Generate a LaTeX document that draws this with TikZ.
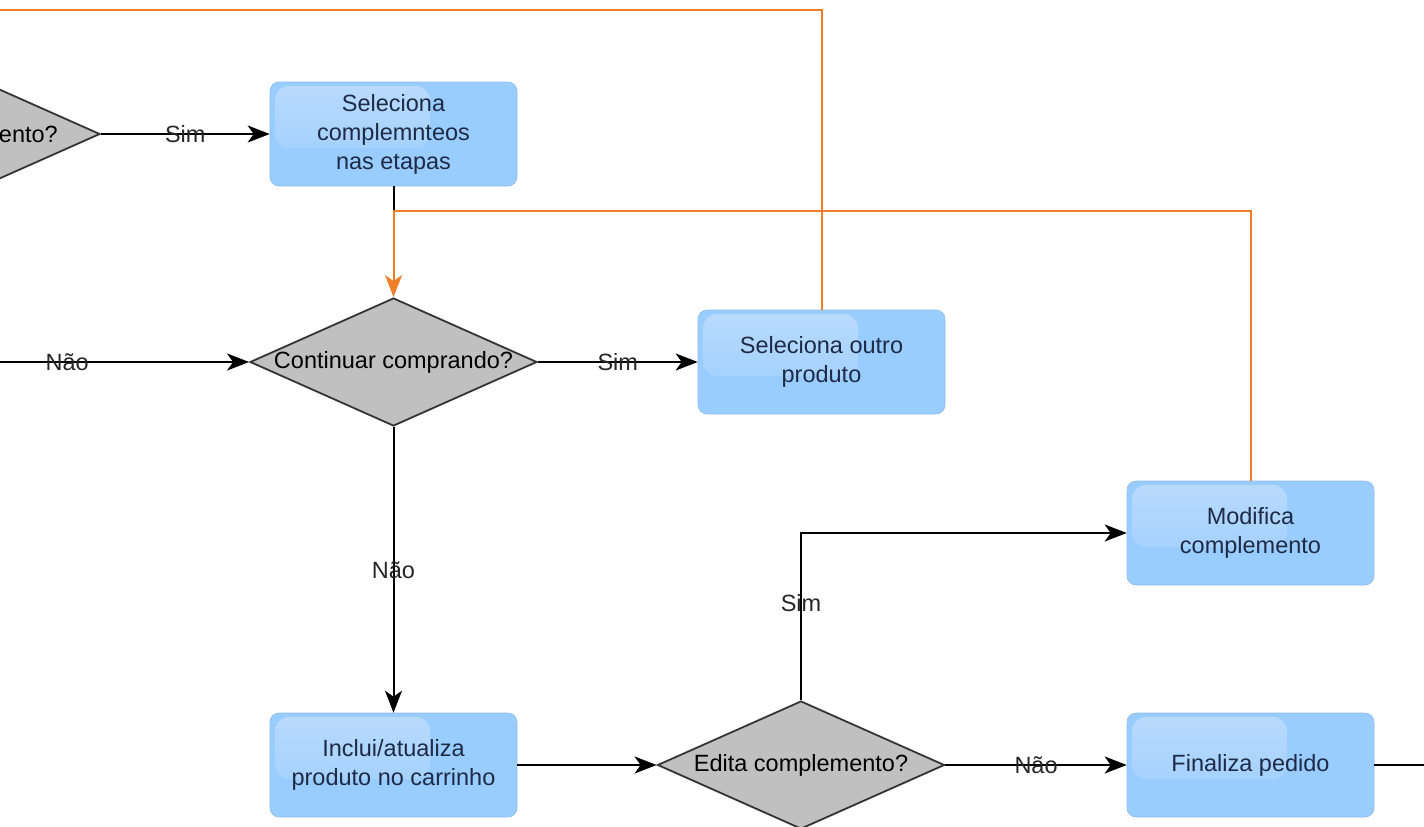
\documentclass[tikz,border=0pt]{standalone}
\usepackage{fontspec}
\setmainfont{Liberation Sans}
\usetikzlibrary{shapes.geometric,arrows.meta}
\definecolor{caixa}{RGB}{153,204,255}
\definecolor{brilho}{RGB}{186,219,253}
\definecolor{losango}{RGB}{192,192,192}
\definecolor{laranja}{RGB}{240,125,40}
\definecolor{texto}{RGB}{30,42,70}
\tikzset{
  etapa/.style={rectangle,rounded corners=9pt,fill=caixa,draw=caixa!92!black,line width=0.6pt,
    minimum width=247pt,minimum height=104pt,align=center,text=texto,
    path picture={\shade[top color=brilho,bottom color=caixa,rounded corners=14pt]
      ([shift={(5,4)}]path picture bounding box.north west) rectangle
      ([shift={(160,66)}]path picture bounding box.north west);}},
  pergunta/.style={diamond,draw=black!80,fill=losango,line width=1.8pt,
    minimum width=287pt,minimum height=128pt,inner sep=0pt},
  fluxo/.style={draw=black,line width=2pt,-{Stealth[length=22pt,width=17pt,inset=6pt]}},
  retorno/.style={draw=laranja,line width=2pt,-{Stealth[length=22pt,width=17pt,inset=6pt]}},
  rotulo/.style={text=black!85,inner sep=1pt}
}
\begin{document}
\begin{tikzpicture}[x=1pt,y=-1pt,font=\fontsize{23.5}{29}\selectfont]
\useasboundingbox (0,0) rectangle (1424,827);
\clip (0,0) rectangle (1424,827);
\node [pergunta] (complemento) at (-43.5,134) {};
\node [anchor=east,inner sep=0pt] (complemento texto) at (58,134) {ento?};
\node [etapa] (selecao) at (393.5,134) {Seleciona\\complemnteos\\nas etapas};
\node [pergunta,label=center:{Continuar comprando?}] (continuar) at (393.5,362) {};
\node [etapa] (outro) at (821.5,362) {Seleciona outro\\produto};
\node [etapa] (modifica) at (1250.5,533) {Modifica\\complemento};
\node [etapa] (carrinho) at (393.5,765) {Inclui/atualiza\\produto no carrinho};
\node [pergunta,label=center:{Edita complemento?}] (edita) at (801,765) {};
\node [etapa] (finaliza) at (1250.5,765) {Finaliza pedido};
\coordinate (entrada) at (0,362);
\coordinate (juncao) at (393.5,211);
\coordinate (topo) at (0,10);
\coordinate (saida) at (1424,765);

\draw [fluxo] (complemento.east) -- node [rotulo] {Sim} (selecao.west);
\draw [fluxo] (entrada) -- node [rotulo,pos=0.27] {Não} (continuar.west);
\draw [fluxo] (continuar.east) -- node [rotulo] {Sim} (outro.west);
\draw [fluxo] (continuar.south) -- node [rotulo] {Não} (carrinho.north);
\draw [fluxo] (carrinho.east) -- (edita.west);
\draw [fluxo] (edita.north) |- node [rotulo,pos=0.29] {Sim} (modifica.west);
\draw [fluxo] (edita.east) -- node [rotulo] {Não} (finaliza.west);
\draw [fluxo,-] (finaliza.east) -- (saida);
\draw [fluxo,-] (selecao.south) -- (juncao);
\draw [retorno] (modifica.north) |- (juncao) -- (continuar.north);
\draw [retorno,-] (outro.north) |- (topo);
\end{tikzpicture}
\end{document}
